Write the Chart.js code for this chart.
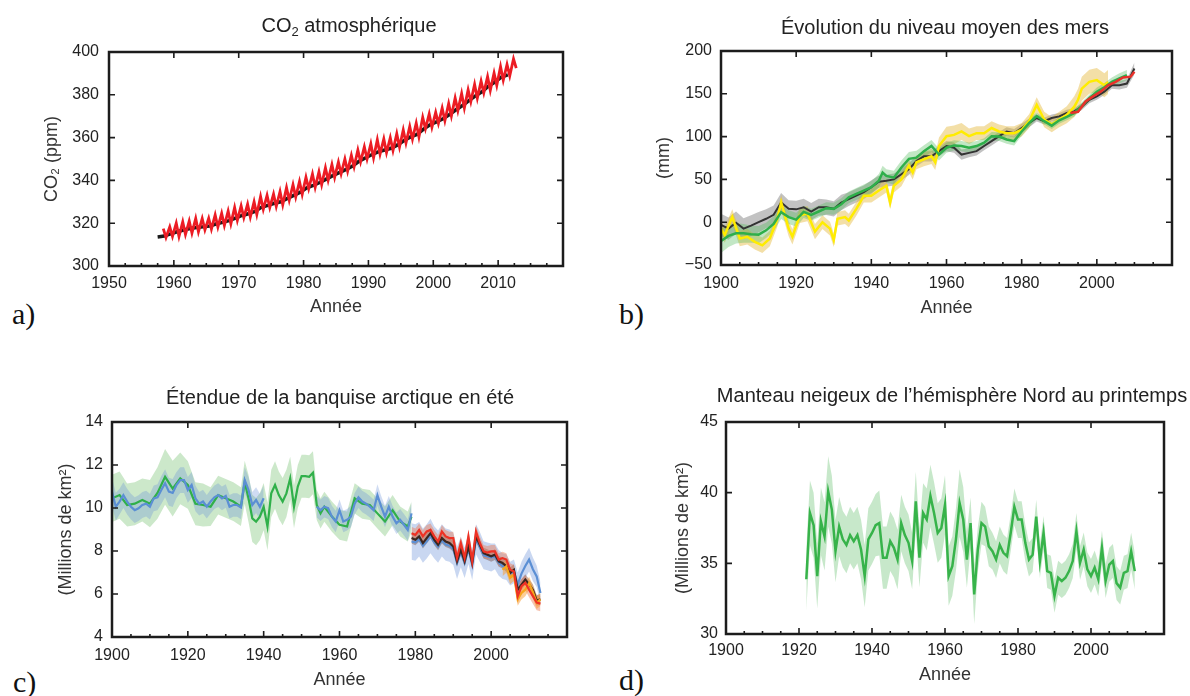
<!DOCTYPE html>
<html lang="fr">
<head>
<meta charset="utf-8">
<title>Indicateurs observés du changement climatique</title>
<script src="https://cdn.jsdelivr.net/npm/chart.js@4.4.1/dist/chart.umd.min.js"></script>
<style>
  body { margin: 0; background: #fff; width: 1190px; height: 696px; position: relative; overflow: hidden; }
  canvas { position: absolute; }
  .lettre { position: absolute; font-family: 'Liberation Serif', 'Times New Roman', serif; font-size: 30px; line-height: 1; color: #111; }
  .titre { position: absolute; width: 600px; text-align: center; font-family: 'Liberation Sans', Arial, sans-serif;
           font-size: 20px; line-height: 24px; color: #222; white-space: nowrap; }
  .titre sub { font-size: 13px; vertical-align: -4px; line-height: 0; }
</style>
</head>
<body>
<canvas id="co2" width="540" height="330" style="left:41px;top:0px"></canvas>
<canvas id="mers" width="537" height="330" style="left:653px;top:0px"></canvas>
<canvas id="banquise" width="530" height="336" style="left:55px;top:360px"></canvas>
<canvas id="neige" width="518" height="336" style="left:672px;top:360px"></canvas>
<div class="titre" style="left:49px;top:13px">CO<sub>2</sub> atmosphérique</div>
<div class="titre" style="left:645px;top:15px">Évolution du niveau moyen des mers</div>
<div class="titre" style="left:40px;top:385px">Étendue de la banquise arctique en été</div>
<div class="titre" style="left:652px;top:383px">Manteau neigeux de l’hémisphère Nord au printemps</div>
<div class="lettre" style="left:12px;top:299px">a)</div>
<div class="lettre" style="left:619px;top:299px">b)</div>
<div class="lettre" style="left:13px;top:667px">c)</div>
<div class="lettre" style="left:619px;top:665px">d)</div>
<script>
/* ---- a) CO2 : Mauna Loa (pic de mai / creux d'octobre) et pôle Sud (moyenne annuelle) ---- */
const co2Annees = [1958,1959,1960,1961,1962,1963,1964,1965,1966,1967,1968,1969,1970,1971,1972,1973,1974,1975,1976,1977,
  1978,1979,1980,1981,1982,1983,1984,1985,1986,1987,1988,1989,1990,1991,1992,1993,1994,1995,1996,1997,
  1998,1999,2000,2001,2002,2003,2004,2005,2006,2007,2008,2009,2010,2011,2012];
const co2Pic = [317.5,318.3,320.0,320.6,321.0,322.2,322.2,322.3,323.9,324.6,325.7,327.3,328.1,328.9,330.0,332.5,333.0,333.6,334.8,336.6,
  338.0,339.5,341.5,343.0,344.0,345.9,347.4,348.6,350.0,351.7,354.2,355.7,357.1,359.0,359.4,360.0,361.8,363.6,365.2,366.8,
  369.5,371.0,371.8,373.8,375.9,378.5,380.6,382.3,384.9,386.4,388.5,390.2,393.2,394.2,396.8];
const co2Creux = [313.3,313.8,313.8,314.7,315.4,316.0,316.9,317.2,318.2,318.9,319.7,321.3,322.6,322.9,324.1,326.5,327.3,327.8,328.6,330.7,
  332.2,333.5,336.1,336.8,338.0,340.1,341.4,343.1,344.3,346.4,348.7,350.0,350.5,352.3,353.0,354.0,355.6,357.5,359.3,360.3,
  364.2,364.8,366.6,367.9,370.1,372.6,373.8,376.8,378.4,380.9,382.1,384.4,386.8,388.9,392.5];
const co2SudAnnees = [1957,1958,1959,1960,1961,1962,1963,1964,1965,1966,1967,1968,1969,1970,1971,1972,1973,1974,1975,1976,
  1977,1978,1979,1980,1981,1982,1983,1984,1985,1986,1987,1988,1989,1990,1991,1992,1993,1994,1995,1996,
  1997,1998,1999,2000,2001,2002,2003,2004,2005,2006,2007,2008,2009,2010,2011];
const co2Sud = [313.6,314.0,315.0,316.0,316.8,317.5,318.0,318.3,318.7,319.6,320.4,321.2,322.4,323.6,324.4,325.5,327.4,328.3,329.3,330.0,
  331.6,333.0,334.5,336.5,337.7,339.0,340.6,342.2,343.6,345.0,346.6,348.8,350.5,352.0,353.3,354.2,355.0,356.6,358.6,360.3,
  361.5,364.0,366.0,367.3,368.8,370.8,373.0,375.0,377.3,379.5,381.4,384.0,386.0,388.3,389.3];

/* ---- b) niveau moyen des mers (mm) ---- */
const merNoirAnnees = [1900,1902,1904,1906,1908,1910,1912,1914,1916,1918,1920,1922,1924,1926,1928,1930,1932,1934,1936,1938,
  1940,1942,1944,1946,1948,1950,1952,1954,1956,1958,1960,1962,1964,1966,1968,1970,1972,1974,1976,1978,
  1980,1982,1984,1986,1988,1990,1992,1994,1996,1998,2000,2002,2004,2006,2008,2010];
const merNoir = [-3,-7.5,-0.6,-7.5,-4,0,4,8.6,23,15.6,15,17.5,12.5,17.5,17.5,15.6,23,27,31,35,
  41,47.2,48.4,50,56,62,71.5,77,77,83,89,87,79,81,83,89,94.7,100.5,106,104,
  110,116,121.7,118,121.7,123.6,127.5,129.4,135,143,147,152.5,160,160,162,179.5];
const merNoirInc = [13,13,13,12,12,12,11,11,11,10,10,10,10,10,9,9,9,8,8,8,
  8,7,7,7,7,7,6,6,6,6,6,6,6,5,5,5,5,5,5,5,
  5,5,4,4,4,4,4,4,4,4,4,4,4,5,5,7];
const merJauneAnnees = [1900,1901,1903,1905,1907,1909,1911,1913,1915,1916,1918,1919,1921,1923,1925,1927,1929,1930,1931,1933,
  1934,1936,1937,1938,1940,1942,1944,1945,1946,1948,1950,1951,1952,1954,1956,1957,1958,1960,1962,1964,
  1966,1968,1970,1972,1974,1976,1978,1980,1982,1984,1986,1988,1990,1992,1994,1995,1996,1998,2000,2002,2003];
const merJaune = [-7.5,-15,6,-19,-17,-23,-27,-19,4,23,-7.5,-17,8,10,-11,0,-7.5,-21,4,6,
  2,15.6,23,31,31,37,42.6,23,42.6,50,66,58,70,73.5,77,70,89,100.5,102,106,
  100.5,104,104,110,106,104,104,108,118,137,120,114,120,125.5,135,143,156,164,166,160,164];
const merJauneInc = [9,9,9,9,9,9,9,9,9,9,9,9,9,9,9,8,8,8,8,8,
  8,8,8,8,8,8,8,8,8,8,8,8,8,8,9,9,10,11,11,10,
  9,8,8,8,8,8,8,8,8,9,9,9,9,10,12,13,14,14,14,14,14];
const merVertAnnees = [1900,1902,1904,1906,1908,1910,1912,1914,1916,1918,1920,1922,1924,1926,1928,1930,1932,1934,1936,1938,
  1940,1942,1943,1944,1946,1948,1950,1952,1954,1956,1958,1960,1962,1964,1966,1968,1970,1972,1974,1976,
  1978,1980,1982,1984,1986,1988,1990,1992,1994,1996,1998,2000,2002,2004,2006,2008];
const merVert = [-22,-16,-13,-13,-14,-14.5,-9.5,-2,11.7,6,3,12,8.6,12.5,16.4,15.6,21,29,33,37,
  41,48.4,58,54,52,64,74,75.4,83,89,79,87,89.7,89,87,89,93,100.5,100,96.6,
  94.7,106,116,124,118,112.8,119,123,127.5,136,145,152.5,157.6,164,168,171.8];
const merVertInc = [14,13,12,11,10,10,9,9,8,8,8,7,7,7,7,7,7,7,7,7,
  7,8,8,8,8,8,8,8,7,7,7,6,6,6,6,6,5,5,5,5,
  5,5,5,4,4,4,4,4,4,4,4,5,5,5,6,6];
const merRougeAnnees = [1993,1995,1997,1999,2001,2003,2005,2007,2009,2010];
const merRouge = [127.5,129,141,147,152.5,160,164,169,170,175.7];

/* ---- c) banquise arctique en été (millions de km²) ---- */
const glaceBleuAAnnees = [1900,1901,1902,1903,1904,1905,1906,1907,1908,1909,1910,1911,1912,1913,1914,1915,1916,1917,1918,1919,
  1920,1921,1922,1923,1924,1925,1926,1927,1928,1929,1930,1931,1932,1933,1934,1935,1936,1937,1938,1939,1940];
const glaceBleuA = [10.76,10.06,10.3,10.6,10.3,10.06,9.9,9.99,10.14,10.2,10.06,10.45,10.5,10.84,11.15,10.76,10.7,11.07,11.3,11.3,
  10.84,11.07,10.45,10.2,10.3,10.06,10.3,10.5,10.6,10.45,10.56,10.06,10.14,10.14,10.03,11.3,10.84,10.14,10.37,10.06,10.45];
const glaceBleuAInc = [0.65,0.65,0.6,0.6,0.6,0.6,0.6,0.6,0.6,0.6,0.6,0.6,0.6,0.65,0.65,0.65,0.65,0.6,0.6,0.6,
  0.6,0.6,0.6,0.55,0.55,0.55,0.55,0.55,0.55,0.55,0.55,0.55,0.55,0.55,0.55,0.6,0.6,0.6,0.6,0.6,0.6];
const glaceBleuBAnnees = [1954,1955,1956,1957,1958,1959,1960,1961,1962,1963,1964,1965,1966,1967,1968,1969,1970,1971,1972,1973,
  1974,1975,1976,1977,1978,1979];
const glaceBleuB = [10.06,9.9,10.06,9.99,9.6,9.37,9.9,9.37,9.45,9.6,10.2,10.5,10.3,10.2,10.06,9.9,10.6,10.06,9.6,10.06,
  9.6,9.29,9.45,9.22,8.98,9.75];
const glaceBleuBInc = [0.5,0.5,0.5,0.5,0.5,0.5,0.5,0.5,0.5,0.5,0.5,0.5,0.5,0.5,0.5,0.5,0.5,0.5,0.5,0.5,
  0.5,0.5,0.5,0.5,0.5,0.5];
const glaceVertAnnees = [1900,1902,1904,1906,1908,1910,1912,1914,1916,1918,1920,1922,1924,1926,1928,1930,1932,1934,
  1935,1936,1937,1938,1939,1940,1941,1942,1943,1944,1945,1946,1947,1948,1949,1950,1951,1952,1953,1954,1955,1956,
  1958,1960,1962,1964,1966,1968,1970,1972,1974,1976,1978,1979];
const glaceVert = [10.45,10.6,10.14,10.2,10.37,10.2,10.7,11.45,10.9,11.38,11.07,10.2,10.14,10.06,10.6,10.45,10.3,10.06,
  11.2,10.45,9.52,9.37,9.6,10.06,9.14,10.68,11.07,10.6,10.3,10.68,11.38,10.06,11.0,11.48,11.48,11.45,11.64,10.14,9.75,10.06,
  9.6,9.22,9.14,10.45,10.2,10.14,9.75,9.37,9.9,9.37,9.14,9.6];
const glaceVertInc = [1.1,1.1,1.0,1.0,1.0,1.1,1.2,1.3,1.3,1.2,1.1,1.0,1.0,0.9,0.9,0.9,0.9,0.9,
  1.0,1.1,1.1,1.1,1.1,1.1,1.1,1.1,1.1,1.1,1.1,1.1,1.0,1.0,1.0,1.0,1.0,1.0,1.0,0.7,0.7,0.7,
  0.7,0.7,0.7,0.7,0.7,0.7,0.7,0.7,0.7,0.7,0.7,0.7];
const glaceModAnnees = [1979,1980,1981,1982,1983,1984,1985,1986,1987,1988,1989,1990,1991,1992,1993,1994,1995,1996,1997,1998,
  1999,2000,2001,2002,2003,2004,2005,2006,2007,2008,2009,2010,2011,2012,2013];
const glaceNoir = [8.6,8.52,8.68,8.37,8.6,8.83,8.52,8.29,8.6,8.44,8.37,8.21,7.52,8.06,7.52,8.21,7.44,8.68,8.29,7.9,
  7.83,7.75,7.83,7.52,7.44,7.29,6.98,7.13,6.2,6.44,6.67,6.44,6.2,5.7,5.75];
const glaceRouge = [8.83,8.75,8.98,8.68,8.91,8.98,8.68,8.44,8.91,8.68,8.6,8.6,7.67,8.37,7.67,8.68,7.52,8.91,8.37,7.98,
  7.93,7.98,7.98,7.6,7.67,7.6,7.13,7.05,5.9,6.36,6.52,6.2,5.9,5.6,5.55];
const glaceBleuC = [8.44,8.4,8.55,8.25,8.45,8.7,8.4,8.2,8.5,8.3,8.25,8.1,7.45,7.95,7.45,8.1,7.35,8.55,8.2,7.8,
  7.75,7.7,7.75,7.45,7.3,7.25,6.95,7.05,6.45,6.95,7.3,7.6,7.15,6.82,6.05];
const glaceNoirInc = [0.25,0.25,0.25,0.25,0.25,0.25,0.25,0.25,0.25,0.25,0.25,0.25,0.25,0.25,0.25,0.25,0.25,0.25,0.25,0.25,
  0.25,0.25,0.25,0.25,0.25,0.25,0.25,0.25,0.25,0.25,0.25,0.25,0.25,0.25,0.25];
const glaceRougeInc = [0.3,0.3,0.3,0.3,0.3,0.3,0.3,0.3,0.3,0.3,0.3,0.3,0.3,0.3,0.3,0.3,0.3,0.3,0.3,0.3,
  0.3,0.3,0.3,0.3,0.3,0.3,0.3,0.3,0.35,0.35,0.35,0.35,0.35,0.35,0.35];
const glaceBleuCInc = [0.85,0.85,0.8,0.8,0.8,0.8,0.75,0.75,0.75,0.75,0.75,0.75,0.75,0.7,0.7,0.7,0.7,0.7,0.7,0.65,
  0.65,0.65,0.6,0.6,0.6,0.6,0.55,0.55,0.55,0.55,0.55,0.55,0.55,0.5,0.5];
const glaceOrangeAnnees = [2003,2004,2005,2006,2007,2008,2009,2010,2011,2012,2013];
const glaceOrange = [7.13,7.29,6.75,6.9,5.75,6.05,6.2,6.5,6.1,5.6,5.75];
const glaceOrangeInc = [0.3,0.3,0.3,0.3,0.3,0.3,0.3,0.3,0.3,0.3,0.3];

/* ---- d) manteau neigeux de printemps (millions de km²) ---- */
const neigeAnnees = [1922,1923,1924,1925,1926,1927,1928,1929,1930,1931,1932,1933,1934,1935,1936,1937,1938,1939,1940,1941,
  1942,1943,1944,1945,1946,1947,1948,1949,1950,1951,1952,1953,1954,1955,1956,1957,1958,1959,1960,1961,
  1962,1963,1964,1965,1966,1967,1968,1969,1970,1971,1972,1973,1974,1975,1976,1977,1978,1979,1980,1981,
  1982,1983,1984,1985,1986,1987,1988,1989,1990,1991,1992,1993,1994,1995,1996,1997,1998,1999,2000,2001,
  2002,2003,2004,2005,2006,2007,2008,2009,2010,2011,2012];
const neige = [33.87,38.56,37.7,34.1,37.97,36.9,40.08,38.8,35.86,37.6,36.7,36.3,37.0,36.56,37.0,35.98,34.1,36.7,37.15,37.7,
  37.85,35.4,35.4,36.56,36.1,35.27,37.85,37.0,36.45,35.16,39.38,35.4,38.56,38.1,39.77,38.56,37.15,37.5,39.14,34.1,
  34.8,36.7,39.26,38.1,35.27,37.85,32.8,35.98,37.85,37.6,36.2,35.86,35.27,36.3,35.74,35.5,37.15,39.0,38.1,38.1,
  36.45,35.27,35.6,38.3,35.16,37.15,34.45,34.33,32.7,33.98,33.75,33.98,34.45,35.16,37.27,35.04,35.98,34.57,34.1,34.7,
  33.87,36.1,33.75,34.9,35.16,33.6,33.28,34.33,34.45,35.86,34.45];
const neigeInc = [2.2,2.3,2.3,2.3,2.4,2.4,2.5,2.4,2.2,2.1,2.0,2.0,2.0,2.0,2.0,2.1,2.2,2.2,2.2,2.2,
  2.3,2.2,2.2,2.1,2.1,2.1,2.0,2.0,2.0,2.0,2.1,2.1,2.1,2.2,2.2,2.2,2.1,2.1,2.1,2.1,
  2.1,2.2,2.4,2.3,2.0,1.8,2.1,1.6,1.5,1.4,1.4,1.3,1.3,1.3,1.3,1.3,1.3,1.3,1.3,1.3,
  1.3,1.2,1.2,1.2,1.2,1.2,1.2,1.2,1.2,1.2,1.2,1.2,1.2,1.2,1.3,1.2,1.2,1.2,1.2,1.2,
  1.2,1.2,1.2,1.2,1.2,1.2,1.2,1.2,1.2,1.3,1.3];

const POLICE = "'Liberation Sans', Arial, Helvetica, sans-serif";

function ligne(xs, ys, couleur, largeur, ordre) {
  return {
    data: xs.map((x, i) => ({x: x, y: ys[i]})),
    borderColor: couleur, borderWidth: largeur, pointRadius: 0,
    fill: false, tension: 0, order: ordre
  };
}

// deux jeux : borne haute remplie jusqu'à la borne basse
function bande(xs, ys, inc, couleur, ordre) {
  return [
    { data: xs.map((x, i) => ({x: x, y: ys[i] + inc[i]})), borderWidth: 0, borderColor: 'transparent',
      pointRadius: 0, backgroundColor: couleur, fill: '+1', order: ordre },
    { data: xs.map((x, i) => ({x: x, y: ys[i] - inc[i]})), borderWidth: 0, borderColor: 'transparent',
      pointRadius: 0, fill: false, order: ordre }
  ];
}

/* cadre noir et graduations intérieures */
const cadre = {
  id: 'cadre',
  afterDatasetsDraw(chart, args, opts) {
    const {ctx, chartArea: a, scales: {x, y}} = chart;
    ctx.save();
    ctx.strokeStyle = '#1c1c1c';
    ctx.lineWidth = 1.6;
    ctx.beginPath();
    for (let v = x.min; v <= x.max; v += opts.mineur) {
      const px = x.getPixelForValue(v);
      ctx.moveTo(px, a.bottom); ctx.lineTo(px, a.bottom - 3);
    }
    x.ticks.forEach(t => {
      const px = x.getPixelForValue(t.value);
      ctx.moveTo(px, a.bottom); ctx.lineTo(px, a.bottom - 6);
      ctx.moveTo(px, a.top); ctx.lineTo(px, a.top + 6);
    });
    y.ticks.forEach(t => {
      const py = y.getPixelForValue(t.value);
      ctx.moveTo(a.left, py); ctx.lineTo(a.left + 6, py);
      ctx.moveTo(a.right, py); ctx.lineTo(a.right - 6, py);
    });
    ctx.stroke();
    ctx.lineWidth = 2.5;
    ctx.strokeRect(a.left, a.top, a.right - a.left, a.bottom - a.top);
    ctx.restore();
  }
};

function options(c) {
  return {
    responsive: false,
    animation: false,
    layout: { padding: c.marge },
    plugins: {
      legend: { display: false },
      tooltip: { enabled: false },
      title: { display: false },
      cadre: { mineur: c.mineur }
    },
    scales: {
      x: {
        type: 'linear', min: c.xMin, max: c.xMax,
        grid: { display: false, drawTicks: false }, border: { display: false },
        ticks: { stepSize: c.xPas, autoSkip: false, maxRotation: 0, padding: c.xEcart, color: '#222',
                 font: { family: POLICE, size: 16 },
                 callback: v => v === c.xMax ? '' : String(v) },
        title: { display: true, text: 'Année', color: '#333', font: { family: POLICE, size: 18 }, padding: 0 },
        afterFit: s => { s.height = c.hx; }
      },
      y: {
        min: c.yMin, max: c.yMax,
        grid: { display: false, drawTicks: false }, border: { display: false },
        ticks: { stepSize: c.yPas, padding: c.yEcart, color: '#222',
                 font: { family: POLICE, size: 16 },
                 callback: v => String(v).replace('-', '\u2212') },
        title: { display: true, text: c.yTitre, color: '#333', font: { family: POLICE, size: 18 }, padding: 0 },
        afterFit: s => { s.width = c.wy; }
      }
    }
  };
}

/* a) */
const co2Points = [];
co2Annees.forEach((an, i) => {
  co2Points.push({x: an + 0.37, y: co2Pic[i]});
  co2Points.push({x: an + 0.79, y: co2Creux[i]});
});
new Chart(document.getElementById('co2'), {
  type: 'line',
  data: { datasets: [
    { data: co2Points, borderColor: '#ec1c24', borderWidth: 2.8, pointRadius: 0, fill: false, order: 1 },
    { data: co2SudAnnees.map((an, i) => ({x: an + 0.5, y: co2Sud[i]})), borderColor: '#1a1a1a',
      borderWidth: 3.5, pointRadius: 0, fill: false, order: 2 }
  ]},
  options: options({
    marge: {left: 0, right: 18, top: 52, bottom: 12}, hx: 52, wy: 68,
    xMin: 1950, xMax: 2020, xPas: 10, mineur: 2.5, xEcart: 8,
    yMin: 300, yMax: 400, yPas: 20, yEcart: 10, yTitre: 'CO\u2082 (ppm)'
  }),
  plugins: [cadre]
});

/* b) */
new Chart(document.getElementById('mers'), {
  type: 'line',
  data: { datasets: [
    ...bande(merNoirAnnees, merNoir, merNoirInc, 'rgba(120,120,120,0.45)', 6),
    ...bande(merJauneAnnees, merJaune, merJauneInc, 'rgba(228,185,60,0.45)', 5),
    ...bande(merVertAnnees, merVert, merVertInc, 'rgba(80,185,90,0.35)', 4),
    ligne(merNoirAnnees, merNoir, '#333333', 2, 3),
    ligne(merJauneAnnees, merJaune, '#ffec00', 2.5, 2),
    ligne(merVertAnnees, merVert, '#2eaf4a', 2.5, 1),
    ligne(merRougeAnnees, merRouge, '#e8302a', 2.5, 0)
  ]},
  options: options({
    marge: {left: 0, right: 18, top: 51, bottom: 11}, hx: 54, wy: 68,
    xMin: 1900, xMax: 2020, xPas: 20, mineur: 5, xEcart: 9,
    yMin: -50, yMax: 200, yPas: 50, yEcart: 9, yTitre: '(mm)'
  }),
  plugins: [cadre]
});

/* c) */
new Chart(document.getElementById('banquise'), {
  type: 'line',
  data: { datasets: [
    ...bande(glaceVertAnnees, glaceVert, glaceVertInc, 'rgba(95,185,90,0.32)', 15),
    ...bande(glaceBleuAAnnees, glaceBleuA, glaceBleuAInc, 'rgba(100,140,215,0.3)', 14),
    ...bande(glaceBleuBAnnees, glaceBleuB, glaceBleuBInc, 'rgba(100,140,215,0.3)', 14),
    ...bande(glaceModAnnees, glaceBleuC, glaceBleuCInc, 'rgba(100,140,215,0.35)', 13),
    ...bande(glaceModAnnees, glaceNoir, glaceNoirInc, 'rgba(120,85,75,0.45)', 12),
    ...bande(glaceModAnnees, glaceRouge, glaceRougeInc, 'rgba(235,125,85,0.45)', 11),
    ...bande(glaceOrangeAnnees, glaceOrange, glaceOrangeInc, 'rgba(250,155,50,0.5)', 10),
    ligne(glaceVertAnnees, glaceVert, '#30b04a', 2.2, 5),
    ligne(glaceBleuAAnnees, glaceBleuA, '#5b8fd4', 2.2, 4),
    ligne(glaceBleuBAnnees, glaceBleuB, '#5b8fd4', 2.2, 4),
    ligne(glaceModAnnees, glaceBleuC, '#5b8fd4', 2.2, 3),
    ligne(glaceModAnnees, glaceNoir, '#3b2620', 2.2, 2),
    ligne(glaceOrangeAnnees, glaceOrange, '#f7a51c', 2.2, 1),
    ligne(glaceModAnnees, glaceRouge, '#ee3124', 2.2, 0)
  ]},
  options: options({
    marge: {left: 0, right: 18, top: 62, bottom: 5}, hx: 54, wy: 57,
    xMin: 1900, xMax: 2020, xPas: 20, mineur: 5, xEcart: 9,
    yMin: 4, yMax: 14, yPas: 2, yEcart: 9, yTitre: '(Millions de km²)'
  }),
  plugins: [cadre]
});

/* d) */
new Chart(document.getElementById('neige'), {
  type: 'line',
  data: { datasets: [
    ...bande(neigeAnnees, neige, neigeInc, 'rgba(70,180,80,0.3)', 2),
    ligne(neigeAnnees, neige, '#37b34a', 2.5, 0)
  ]},
  options: options({
    marge: {left: 0, right: 26, top: 62, bottom: 10}, hx: 52, wy: 54,
    xMin: 1900, xMax: 2020, xPas: 20, mineur: 5, xEcart: 7,
    yMin: 30, yMax: 45, yPas: 5, yEcart: 8, yTitre: '(Millions de km²)'
  }),
  plugins: [cadre]
});
</script>
</body>
</html>
